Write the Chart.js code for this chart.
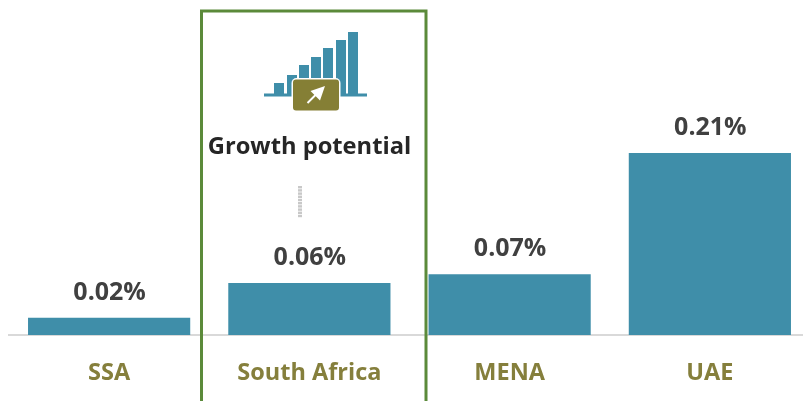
<!DOCTYPE html>
<html><head><meta charset="utf-8">
<style>html,body{margin:0;padding:0;background:#fff;overflow:hidden;width:803px;height:401px}
#w{position:absolute;left:0;top:0;width:811px;height:401px}</style>
<script src="https://cdn.jsdelivr.net/npm/chart.js@4"></script></head>
<body><div id="w"><canvas id="c" width="811" height="401"></canvas></div>
<script>
const categories=["SSA","South Africa","MENA","UAE"];
const growthValues=[0.02,0.06,0.07,0.21];
const calloutTitle="Growth potential";
const FONT='"Open Sans", sans-serif';
const TEAL='#3f8ea9', OLIVE='#857f3c', GREEN='#5b8a3a', DARK='#404040';

const decor={id:'decor',
 afterDatasetsDraw(ch){
  const c=ch.ctx;c.save();
  // value labels
  const m=ch.getDatasetMeta(0);
  c.fillStyle=DARK;c.font='700 25px '+FONT;c.textAlign='center';c.textBaseline='alphabetic';
  m.data.forEach((b,i)=>c.fillText(growthValues[i].toFixed(2)+'%',b.x+0.5,b.y-18));
  // icon
  c.fillStyle=TEAL;
  c.fillRect(264,93.5,103,3);
  [[274,83],[287,75],[299,65],[311,57],[323,48],[336,40],[348,32]].forEach(([x,y])=>c.fillRect(x,y,10,95-y));
  c.beginPath();c.roundRect(291.5,78,49,34,5);c.fillStyle='#fff';c.fill();
  c.beginPath();c.roundRect(293,79.5,46,31,3);c.fillStyle='#857f35';c.fill();
  c.fillStyle='#fff';c.strokeStyle='#fff';c.lineWidth=2;
  c.beginPath();c.moveTo(307.5,103);c.lineTo(318,92.5);c.stroke();
  c.beginPath();c.moveTo(325,86);c.lineTo(310.5,91);c.lineTo(320,100.5);c.closePath();c.fill();
  // title
  c.fillStyle='#262626';c.font='700 23.7px '+FONT;c.textAlign='center';
  c.fillText(calloutTitle,309.5,154);
  // dotted connector
  c.fillStyle='#c8c8c8';
  for(let y=186;y<217;y+=3.2)c.fillRect(298,y,4,2.4);
  // frame
  c.strokeStyle=GREEN;c.lineWidth=3;
  c.beginPath();c.moveTo(201.5,403);c.lineTo(201.5,11);c.lineTo(426,11);c.lineTo(426,403);c.stroke();
  c.restore();
 }};

new Chart(document.getElementById('c'),{
 type:'bar',
 data:{labels:categories,datasets:[{data:growthValues,backgroundColor:TEAL,categoryPercentage:1,barPercentage:0.81}]},
 plugins:[decor],
 options:{responsive:false,animation:false,
  layout:{padding:{left:9,right:1,top:153,bottom:0}},
  plugins:{legend:{display:false},tooltip:{enabled:false}},
  scales:{
   y:{display:false,min:0,max:0.21},
   x:{grid:{display:false,drawTicks:false},border:{color:'#d9d9d9',width:2},
      afterFit(s){s.height=66;},
      ticks:{color:OLIVE,font:{family:FONT,size:23.5,weight:'700'},padding:24,maxRotation:0}}
  }}
});
</script></body></html>
